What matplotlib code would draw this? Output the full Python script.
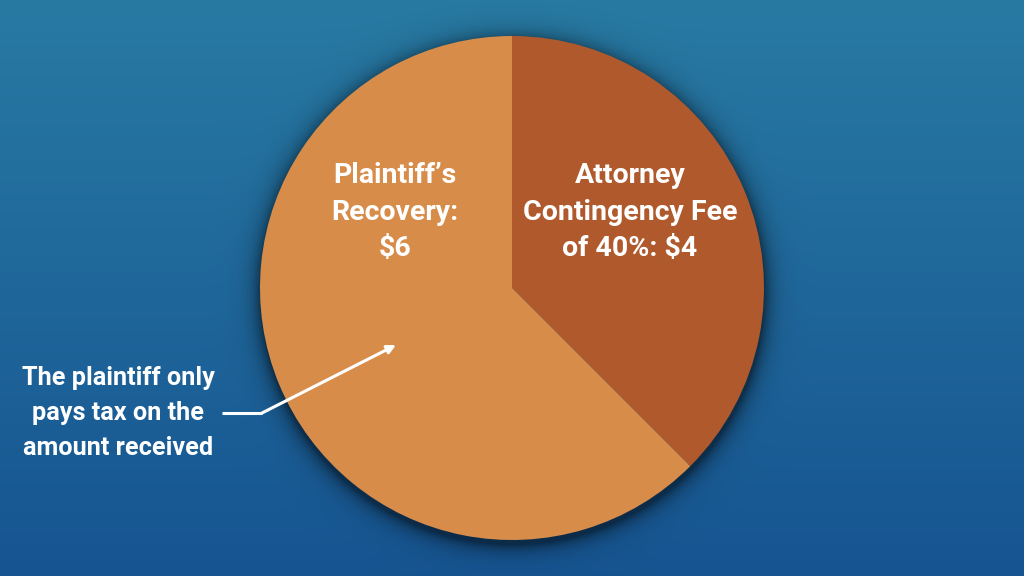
import numpy as np
import matplotlib
matplotlib.use("Agg")
import matplotlib.pyplot as plt

# wedge shares as drawn in the picture (attorney first, clockwise from 12 o'clock)
slice_names = ["Attorney", "Plaintiff"]
slice_shares = [37.5, 62.5]
slice_colors = ["#B0592C", "#D88C49"]
slice_labels = ["Attorney\nContingency Fee\nof 40%: $4", "Plaintiff\u2019s\nRecovery:\n$6"]
note_text = "The plaintiff only\npays tax on the\namount received"

W, H = 1024, 576
cx, cy, r = 512, 288, 252

plt.rcParams['font.family'] = ['Roboto', 'DejaVu Sans']

fig = plt.figure(figsize=(W / 100, H / 100), dpi=100)
ax = fig.add_axes([0, 0, 1, 1])
ax.set_xlim(0, W)
ax.set_ylim(0, H)
ax.set_aspect('equal')
ax.axis('off')

# background gradient + soft shadow around the pie
yy, xx = np.mgrid[0:H, 0:W]
t = (yy / (H - 1))[..., None]
top = np.array([40, 122, 163]) / 255
bot = np.array([22, 84, 145]) / 255
bg = top * (1 - t) + bot * t
d = np.sqrt((xx - cx) ** 2 + (yy - (cy + 4)) ** 2) - r
shade = np.where(d > -6, 0.5 * np.exp(-np.clip(d, 0, None) / 9), 0)
bg = bg * (1 - shade[..., None])
ax.imshow(bg, extent=[0, W, H, 0], zorder=0)
ax.set_ylim(H, 0)

# pie (y axis flipped, so draw counterclockwise with negative start)
ax.pie(slice_shares, colors=slice_colors, startangle=-90, counterclock=True,
       center=(cx, cy), radius=r, frame=True,
       wedgeprops=dict(linewidth=0))
ax.set_xlim(0, W)
ax.set_ylim(H, 0)
ax.axis('off')

txt = dict(color='white', fontsize=20.5, fontweight='bold', ha='center',
           va='center', linespacing=1.45, zorder=5)
ax.text(630, 212, slice_labels[0], **txt)
ax.text(395, 212, slice_labels[1], **txt)
ax.text(118, 413, note_text, **{**txt, 'fontsize': 18.2, 'linespacing': 1.58})

ax.plot([222, 262], [413, 413], color='white', lw=2.2, solid_capstyle='butt', zorder=5)
ax.annotate("", xy=(396, 345), xytext=(262, 413),
            arrowprops=dict(arrowstyle='-|>,head_length=0.5,head_width=0.25',
                            color='white', lw=2.2, shrinkA=0, shrinkB=0), zorder=5)

fig.savefig("out.png", dpi=100)
